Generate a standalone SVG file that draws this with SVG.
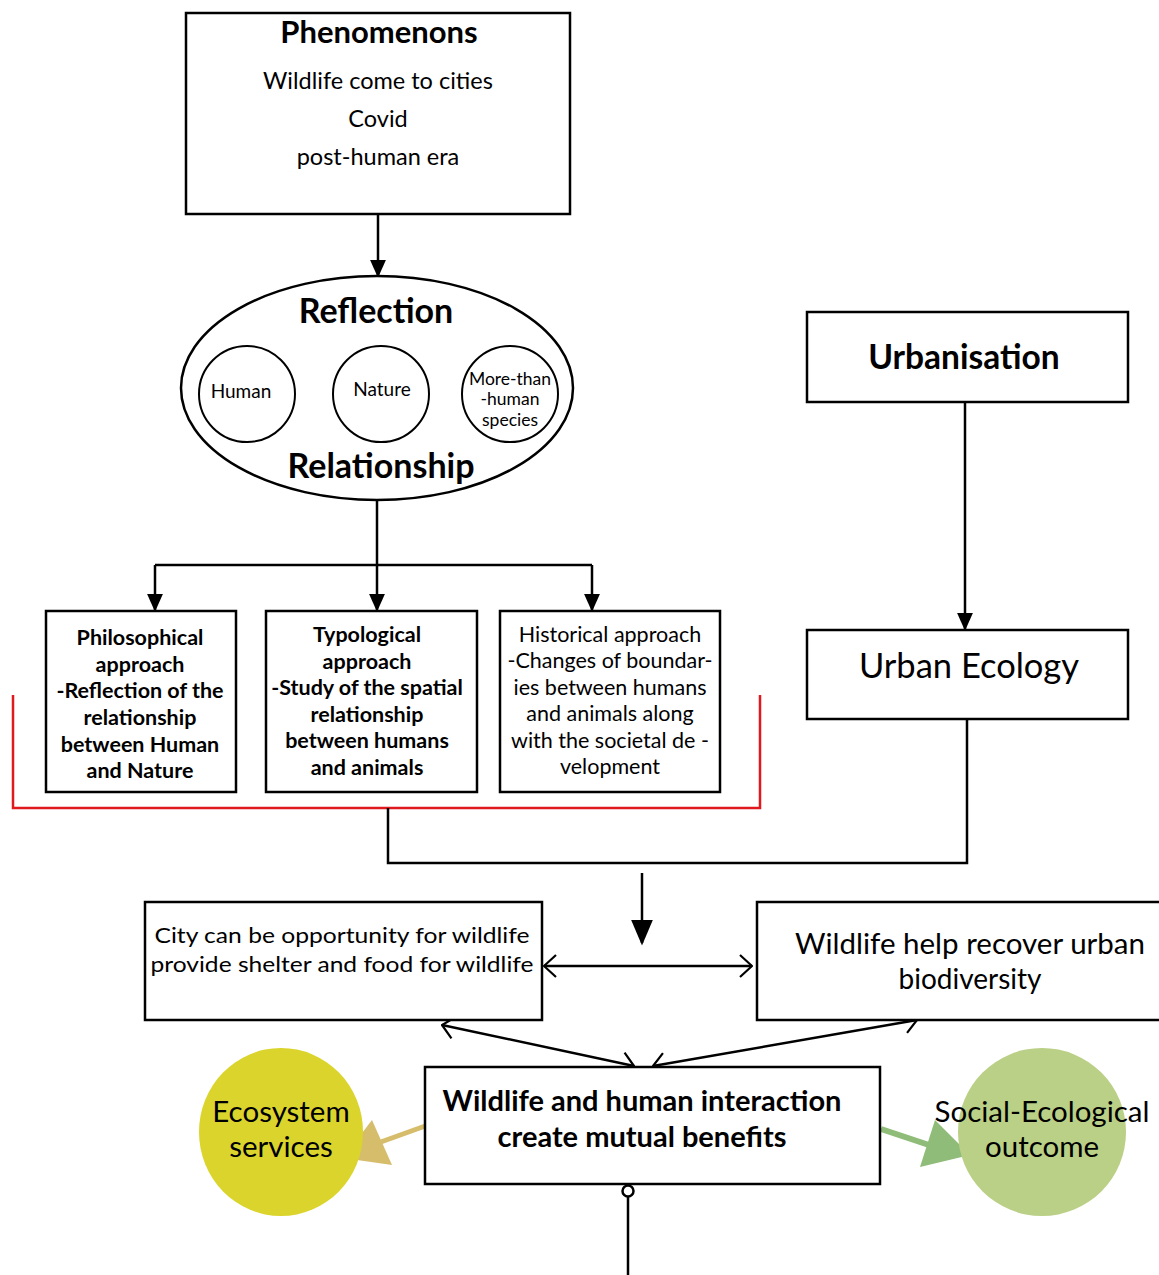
<svg xmlns="http://www.w3.org/2000/svg" width="1159" height="1275" viewBox="0 0 1159 1275">
<defs>
<style>
.box{fill:#fff;stroke:#000;stroke-width:2.5}
.ln{fill:none;stroke:#000;stroke-width:2.5}
.t{font-family:Lato,"Open Sans","Liberation Sans",sans-serif;fill:#000;text-anchor:middle}
.b{font-weight:bold}
</style>
<marker id="ahb" viewBox="0 0 10 10" refX="9" refY="5" markerWidth="18" markerHeight="16" markerUnits="userSpaceOnUse" orient="auto" preserveAspectRatio="none">
<path d="M0,0 L10,5 L0,10 z" fill="#000"/>
</marker>
<marker id="ahl" viewBox="0 0 10 10" refX="9" refY="5" markerWidth="26" markerHeight="22" markerUnits="userSpaceOnUse" orient="auto" preserveAspectRatio="none">
<path d="M0,0 L10,5 L0,10 z" fill="#000"/>
</marker>
<marker id="oa" viewBox="0 0 14 24" refX="13" refY="12" markerWidth="14" markerHeight="24" markerUnits="userSpaceOnUse" orient="auto-start-reverse">
<path d="M1,1 L13,12 L1,23" fill="none" stroke="#000" stroke-width="2.2"/>
</marker>
</defs>
<rect width="1159" height="1275" fill="#fff"/>

<g id="connectors">
<line class="ln" x1="378" y1="214" x2="378" y2="276" marker-end="url(#ahb)"/>
<polyline class="ln" points="377,500 377,565"/>
<polyline class="ln" points="155,565 592,565"/>
<line class="ln" x1="155" y1="565" x2="155" y2="610" marker-end="url(#ahb)"/>
<line class="ln" x1="377" y1="565" x2="377" y2="610" marker-end="url(#ahb)"/>
<line class="ln" x1="592" y1="565" x2="592" y2="610" marker-end="url(#ahb)"/>
<polyline points="13,695 13,808 760,808 760,695" fill="none" stroke="#e0191f" stroke-width="2.5"/>
<polyline class="ln" points="388,808 388,863 967,863 967,720"/>
<line class="ln" x1="965" y1="402" x2="965" y2="629" marker-end="url(#ahb)"/>
<line class="ln" x1="642" y1="873" x2="642" y2="943" marker-end="url(#ahl)"/>
<line class="ln" x1="544" y1="966" x2="752" y2="966" marker-start="url(#oa)" marker-end="url(#oa)"/>
<line class="ln" x1="442" y1="1025" x2="634" y2="1066" marker-start="url(#oa)" marker-end="url(#oa)"/>
<line class="ln" x1="917" y1="1020" x2="653" y2="1066" marker-start="url(#oa)" marker-end="url(#oa)"/>
<line x1="428" y1="1125" x2="378" y2="1143" stroke="#d6bd6c" stroke-width="5"/>
<polygon points="343,1158 372,1120 392,1165" fill="#d6bd6c"/>
<line x1="881" y1="1129" x2="935" y2="1147" stroke="#8fbc78" stroke-width="6"/>
<polygon points="970,1155 935,1120 920,1167" fill="#8fbc78"/>
<circle cx="628" cy="1191" r="5.5" fill="#fff" stroke="#000" stroke-width="2.5"/>
<line class="ln" x1="628" y1="1197" x2="628" y2="1275"/>
</g>

<g id="phenomenons">
<rect class="box" x="186" y="13" width="384" height="201"/>
<text class="t b" x="379" y="43" font-size="31">Phenomenons</text>
<text class="t" x="378" y="89" font-size="23.5">Wildlife come to cities</text>
<text class="t" x="378" y="127" font-size="23.5">Covid</text>
<text class="t" x="378" y="165" font-size="23.5">post-human era</text>
</g>

<g id="reflection">
<ellipse cx="377" cy="388" rx="196" ry="112" fill="#fff" stroke="#000" stroke-width="2.5"/>
<text class="t b" x="376" y="323" font-size="34">Reflection</text>
<text class="t b" x="381" y="478" font-size="34">Relationship</text>
</g>
<g id="human">
<circle cx="247" cy="394" r="48" fill="#fff" stroke="#000" stroke-width="2"/>
<text class="t" x="241" y="398" font-size="19">Human</text>
</g>
<g id="nature">
<circle cx="381" cy="394" r="48" fill="#fff" stroke="#000" stroke-width="2"/>
<text class="t" x="382" y="396" font-size="19">Nature</text>
</g>
<g id="more-than-human">
<circle cx="510" cy="394" r="48" fill="#fff" stroke="#000" stroke-width="2"/>
<text class="t" x="510" y="385" font-size="17.5">More-than</text>
<text class="t" x="510" y="405" font-size="17.5">-human</text>
<text class="t" x="510" y="426" font-size="17.5">species</text>
</g>

<g id="philosophical">
<rect class="box" x="46" y="611" width="190" height="181"/>
<text class="t b" x="140" y="645" font-size="21.5">Philosophical</text>
<text class="t b" x="140" y="672" font-size="21.5">approach</text>
<text class="t b" x="140" y="698" font-size="21.5">-Reflection of the</text>
<text class="t b" x="140" y="725" font-size="21.5">relationship</text>
<text class="t b" x="140" y="752" font-size="21.5">between Human</text>
<text class="t b" x="140" y="778" font-size="21.5">and Nature</text>
</g>
<g id="typological">
<rect class="box" x="266" y="611" width="211" height="181"/>
<text class="t b" x="367" y="642" font-size="21.5">Typological</text>
<text class="t b" x="367" y="669" font-size="21.5">approach</text>
<text class="t b" x="367" y="695" font-size="21.5">-Study of the spatial</text>
<text class="t b" x="367" y="722" font-size="21.5">relationship</text>
<text class="t b" x="367" y="748" font-size="21.5">between humans</text>
<text class="t b" x="367" y="775" font-size="21.5">and animals</text>
</g>
<g id="historical">
<rect class="box" x="500" y="611" width="220" height="181"/>
<text class="t" x="610" y="642" font-size="21.5">Historical approach</text>
<text class="t" x="610" y="668" font-size="21.5">-Changes of boundar-</text>
<text class="t" x="610" y="695" font-size="21.5">ies between humans</text>
<text class="t" x="610" y="721" font-size="21.5">and animals along</text>
<text class="t" x="610" y="748" font-size="21.5">with the societal  de -</text>
<text class="t" x="610" y="774" font-size="21.5">velopment</text>
</g>

<g id="urbanisation">
<rect class="box" x="807" y="312" width="321" height="90"/>
<text class="t b" x="964" y="369" font-size="33.5">Urbanisation</text>
</g>
<g id="urban-ecology">
<rect class="box" x="807" y="630" width="321" height="89"/>
<text class="t" x="969" y="678" font-size="34.5">Urban Ecology</text>
</g>

<g id="city">
<rect class="box" x="145" y="902" width="397" height="118"/>
<text class="t" x="342" y="943" font-size="22" textLength="375" lengthAdjust="spacingAndGlyphs">City can be opportunity for wildlife</text>
<text class="t" x="342" y="972" font-size="22" textLength="383" lengthAdjust="spacingAndGlyphs">provide shelter and food for wildlife</text>
</g>
<g id="wildlife-help">
<rect class="box" x="757" y="902" width="410" height="118"/>
<text class="t" x="970" y="954" font-size="28" textLength="350" lengthAdjust="spacingAndGlyphs">Wildlife help recover urban</text>
<text class="t" x="970" y="989" font-size="28">biodiversity</text>
</g>

<g id="interaction">
<rect class="box" x="425" y="1067" width="455" height="117"/>
<text class="t b" x="642" y="1111" font-size="29">Wildlife and human interaction</text>
<text class="t b" x="642" y="1147" font-size="29">create mutual benefits</text>
</g>

<g id="ecosystem">
<ellipse cx="281" cy="1132" rx="82" ry="84" fill="#dbd42c"/>
<text class="t" x="281" y="1122" font-size="29.5">Ecosystem</text>
<text class="t" x="281" y="1157" font-size="29.5">services</text>
</g>
<g id="social-ecological">
<ellipse cx="1042" cy="1132" rx="84" ry="84" fill="#bad086"/>
<text class="t" x="1042" y="1122" font-size="29.5">Social-Ecological</text>
<text class="t" x="1042" y="1157" font-size="29.5">outcome</text>
</g>
</svg>
